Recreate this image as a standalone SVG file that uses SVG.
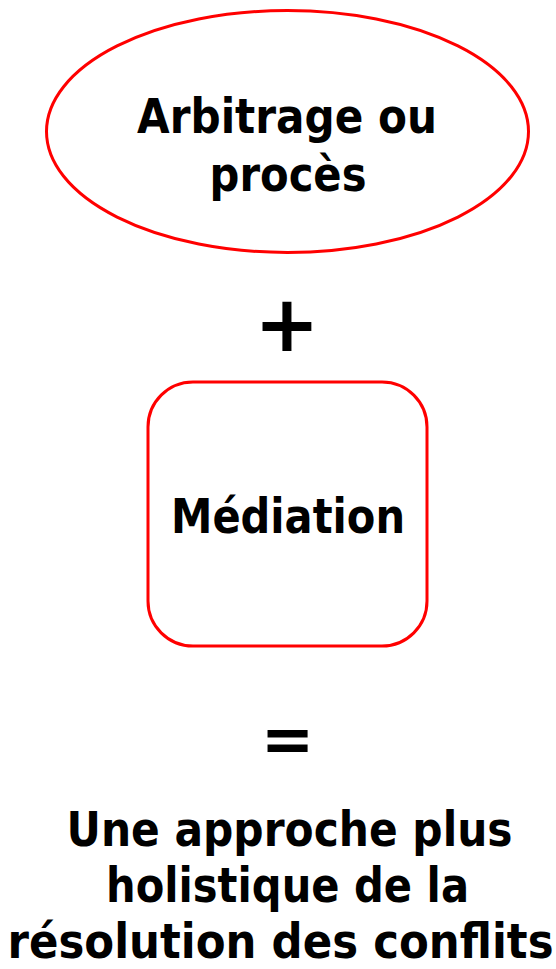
<svg xmlns="http://www.w3.org/2000/svg" width="556" height="969" viewBox="0 0 556 969">
<style>
.shape{fill:#ffffff;stroke:#ff0000;stroke-width:3}
.t{font-family:"DejaVu Sans","Liberation Sans",sans-serif;font-weight:bold;fill:#000000;text-anchor:middle;font-size:43px}
.sym{font-family:"DejaVu Sans","Liberation Sans",sans-serif;font-weight:bold;fill:#000000;text-anchor:middle}
</style>
<rect width="556" height="969" fill="#ffffff"/>
<g id="arbitrage">
<ellipse class="shape" cx="287.5" cy="131.5" rx="241" ry="121"/>
<text class="t" transform="translate(287,133) scale(1,1.116)" x="0" y="0" textLength="300" lengthAdjust="spacingAndGlyphs">Arbitrage ou</text>
<text class="t" transform="translate(288,191) scale(1,1.116)" x="0" y="0" textLength="157" lengthAdjust="spacingAndGlyphs">procès</text>
</g>
<g id="plus">
<text class="sym" font-size="78" x="287" y="351">+</text>
</g>
<g id="mediation">
<rect class="shape" x="148" y="382" width="279" height="264" rx="45" ry="45"/>
<text class="t" transform="translate(288,533) scale(1,1.116)" x="0" y="0" textLength="234" lengthAdjust="spacingAndGlyphs">Médiation</text>
</g>
<g id="equals">
<text class="sym" font-size="64" x="287.5" y="761">=</text>
</g>
<g id="result">
<text class="t" transform="translate(289.5,846) scale(1,1.116)" x="0" y="0" textLength="446" lengthAdjust="spacingAndGlyphs">Une approche plus</text>
<text class="t" transform="translate(287.5,902) scale(1,1.116)" x="0" y="0" textLength="363" lengthAdjust="spacingAndGlyphs">holistique de la</text>
<text class="t" transform="translate(280.5,958) scale(1,1.116)" x="0" y="0" textLength="546" lengthAdjust="spacingAndGlyphs">résolution des conflits</text>
</g>
<g id="connectors"/>
</svg>
